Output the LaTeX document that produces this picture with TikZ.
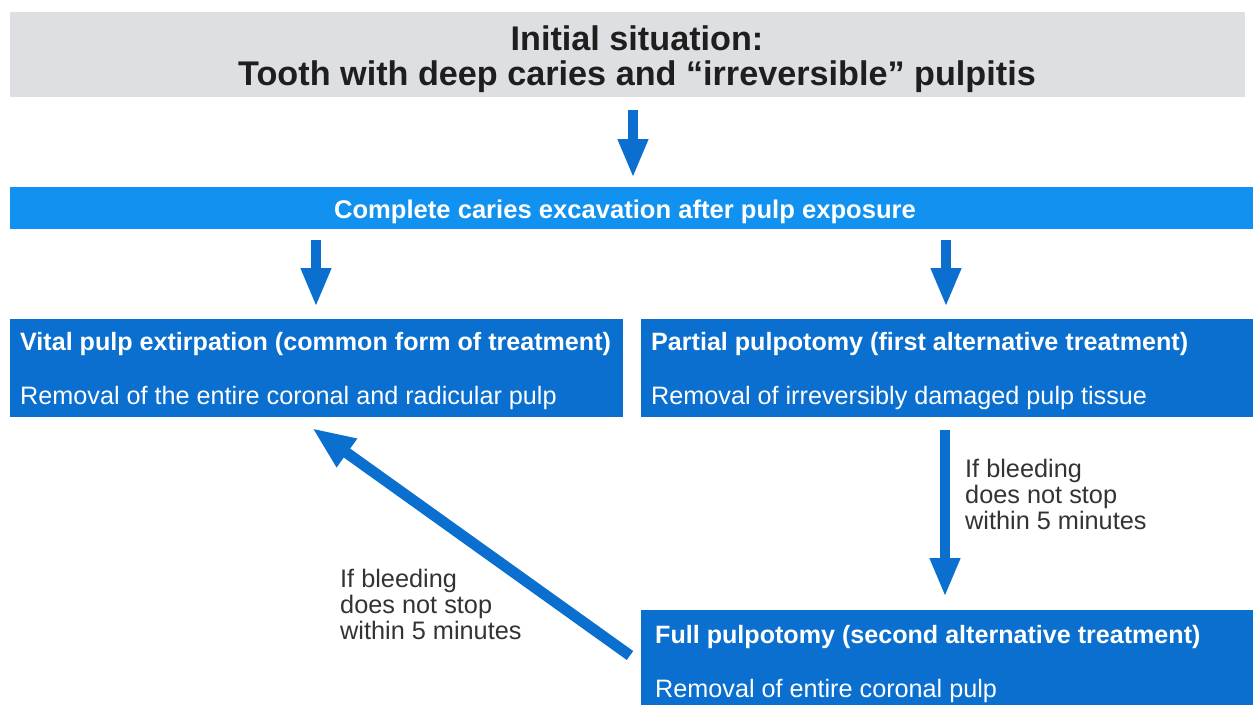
\documentclass[tikz,border=0pt]{standalone}
\usepackage{fontspec}
\setmainfont{Liberation Sans}
\usetikzlibrary{arrows.meta}
\definecolor{greybg}{HTML}{DEDFE2}
\definecolor{lightblue}{HTML}{1191F0}
\definecolor{darkblue}{HTML}{0A6FCE}
\definecolor{titletext}{HTML}{1E1E1E}
\definecolor{labeltext}{HTML}{333333}
\begin{document}
\begin{tikzpicture}[x=1pt,y=-1pt,
  panel/.style={draw=none, inner sep=0pt, outer sep=0pt, anchor=north west},
  boxtitle/.style={anchor=base west, inner sep=0pt, text=white, font=\fontsize{25.1}{26}\selectfont\bfseries},
  boxsub/.style={anchor=base west, inner sep=0pt, text=white, font=\fontsize{25.2}{26}\selectfont},
  lbl/.style={anchor=north west, inner sep=0pt, align=left, text=labeltext, font=\fontsize{25.3}{26}\selectfont},
  flow/.style={draw=darkblue, line width=10pt, -{Triangle[width=28pt,length=39pt]}},
  diag/.style={draw=darkblue, line width=11pt, -{Triangle[width=32pt,length=43pt]}}]
\useasboundingbox (0,0) rectangle (1253,705);
% panels
\node[panel, fill=greybg, minimum width=1235pt, minimum height=85pt] (init) at (10,12) {};
\node[panel, fill=lightblue, minimum width=1243pt, minimum height=42pt] (exc) at (10,187) {};
\node[panel, fill=darkblue, minimum width=613pt, minimum height=98pt] (vital) at (10,319) {};
\node[panel, fill=darkblue, minimum width=612pt, minimum height=98pt] (partial) at (641,319) {};
\node[panel, fill=darkblue, minimum width=612pt, minimum height=95pt] (full) at (641,610) {};
% texts
\node[anchor=base, inner sep=0pt, text=titletext, font=\fontsize{34.2}{35}\selectfont\bfseries] (initA) at (637,50) {Initial situation:};
\node[anchor=base, inner sep=0pt, text=titletext, font=\fontsize{34.2}{35}\selectfont\bfseries] (initB) at (637,85) {Tooth with deep caries and “irreversible” pulpitis};
\node[anchor=base, inner sep=0pt, text=white, font=\fontsize{25.6}{26}\selectfont\bfseries] (excT) at (625,218) {Complete caries excavation after pulp exposure};
\node[boxtitle] (vitalT) at (20,350) {Vital pulp extirpation (common form of treatment)};
\node[boxsub] (vitalS) at (20,404) {Removal of the entire coronal and radicular pulp};
\node[boxtitle] (partialT) at (651,350) {Partial pulpotomy (first alternative treatment)};
\node[boxsub] (partialS) at (651,404) {Removal of irreversibly damaged pulp tissue};
\node[boxtitle] (fullT) at (655,643) {Full pulpotomy (second alternative treatment)};
\node[boxsub] (fullS) at (655,697) {Removal of entire coronal pulp};
\node[lbl] (lblR) at (965,459) {If bleeding\\does not stop\\within 5 minutes};
\node[lbl] (lblL) at (340,569) {If bleeding\\does not stop\\within 5 minutes};
% arrow columns
\coordinate (cTop) at (633,0);
\coordinate (cLeft) at (316,0);
\coordinate (cRight) at (946,0);
\coordinate (cMid) at (945,0);
% connectors
\draw[flow, shorten <=13pt, shorten >=9pt] (init.south -| cTop) -- (exc.north -| cTop);
\draw[flow, shorten <=11pt, shorten >=12pt] (exc.south -| cLeft) -- (vital.north -| cLeft);
\draw[flow, shorten <=11pt, shorten >=12pt] (exc.south -| cRight) -- (partial.north -| cRight);
\draw[flow, shorten <=13pt, shorten >=13pt] (partial.south -| cMid) -- (full.north -| cMid);
\draw[diag] ([xshift=-11pt,yshift=2pt]full.west) -- ([xshift=-4.5pt,yshift=-11pt]vital.south);
\end{tikzpicture}
\end{document}
